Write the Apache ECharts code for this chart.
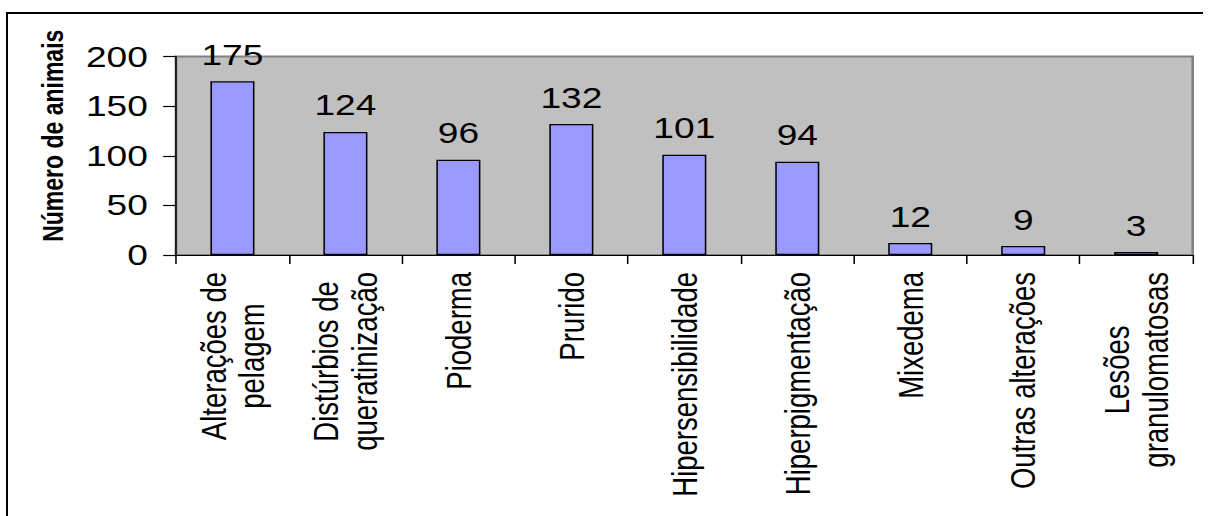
<!DOCTYPE html>
<html>
<head>
<meta charset="utf-8">
<script src="https://cdn.jsdelivr.net/npm/echarts@6/dist/echarts.min.js"></script>
<style>
  html, body { margin: 0; padding: 0; background: #ffffff; overflow: hidden; }
  #wrap { position: relative; width: 1208px; height: 516px; overflow: hidden; }
  /* the chart is laid out narrow and widened horizontally, giving its wide-set lettering */
  #chart { width: 944px; height: 516px; transform: scaleX(1.2797); transform-origin: 0 0; }
  /* figure frame: left and top edges */
  #frame { position: absolute; left: 6px; top: 11.5px; width: 1195px; height: 1000px;
           border-left: 2px solid #000; border-top: 2px solid #000; pointer-events: none; }
</style>
</head>
<body>
<div id="wrap"><div id="chart"></div><div id="frame"></div></div>
<script>
// Number of animals per clinical sign
const categories = [
  'Alterações de\npelagem',
  'Distúrbios de\nqueratinização',
  'Pioderma',
  'Prurido',
  'Hipersensibilidade',
  'Hiperpigmentação',
  'Mixedema',
  'Outras alterações',
  'Lesões\ngranulomatosas'
];
const animals = [175, 124, 96, 132, 101, 94, 12, 9, 3];
const yTicks = [0, 50, 100, 150, 200];
const yTitle = 'Número de animais';

const FONT = '"Liberation Sans", Arial, sans-serif';

const chart = echarts.init(document.getElementById('chart'), null, { renderer: 'svg' });

chart.setOption({
  backgroundColor: '#ffffff',
  animation: false,
  grid: {
    left: 137.5, right: 12, top: 56.5, bottom: 261,
    show: true,
    backgroundColor: '#c0c0c0',
    borderColor: '#808080',
    borderWidth: 2
  },
  xAxis: {
    type: 'category',
    data: categories,
    axisLine: { show: true, lineStyle: { color: '#000000', width: 1.2 } },
    axisTick: { show: true, alignWithLabel: false, length: 9, lineStyle: { color: '#000000', width: 1.2 } },
    axisLabel: {
      interval: 0,
      rotate: 90,
      margin: 17,
      color: '#000000',
      fontFamily: FONT,
      fontSize: 27.5,
      lineHeight: 30,
      formatter: function (v) {
        return v.split('\n').map(function (s) { return '{c|' + s + '}'; }).join('\n');
      },
      rich: {
        c: { align: 'center', color: '#000000', fontFamily: FONT, fontSize: 27.5, lineHeight: 30 }
      }
    }
  },
  yAxis: {
    type: 'value',
    min: yTicks[0],
    max: yTicks[yTicks.length - 1],
    interval: yTicks[1] - yTicks[0],
    name: yTitle,
    nameLocation: 'middle',
    nameGap: 85,
    nameTextStyle: {
      color: '#000000', fontFamily: FONT, fontSize: 23, fontWeight: 'bold',
      padding: [0, 0, 0, 40]
    },
    splitLine: { show: false },
    axisLine: { show: true, lineStyle: { color: '#000000', width: 1.2 } },
    axisTick: { show: true, length: 10, lineStyle: { color: '#000000', width: 1.2 } },
    axisLabel: { margin: 22, color: '#000000', fontFamily: FONT, fontSize: 29 }
  },
  series: [{
    type: 'bar',
    data: animals,
    barWidth: '39%',
    itemStyle: { color: '#9999ff', borderColor: '#000000', borderWidth: 1.2 },
    label: {
      show: true,
      position: 'top',
      distance: 12,
      color: '#000000',
      fontFamily: FONT,
      fontSize: 29
    }
  }]
});
</script>
</body>
</html>
